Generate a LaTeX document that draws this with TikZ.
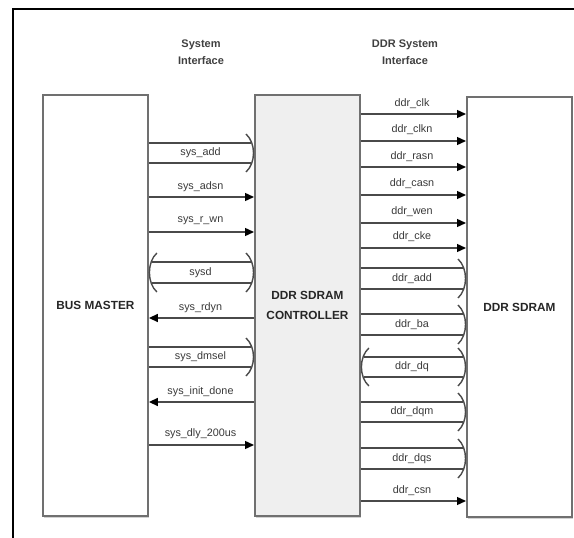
\documentclass[tikz,border=0pt]{standalone}
\usepackage{fontspec}
\setmainfont{Liberation Sans}
\usetikzlibrary{arrows.meta,calc,shadows}
\definecolor{boxline}{HTML}{707070}
\definecolor{sigline}{HTML}{4A4A4A}
\definecolor{lbl}{HTML}{3A3A3A}
\definecolor{ctlfill}{HTML}{EFEFEF}
\definecolor{shadowc}{HTML}{D2D2D2}
% ")" bracket ending a bus at the left side of a box: #1 anchor, #2 top y, #3 bottom y
\newcommand\rbrk[3]{\draw[sig] ($(#1 |- 0,#2)+(-8,-9)$) .. controls ($(#1 |- 0,#2)+(2,0)$) and ($(#1 |- 0,#3)+(2,0)$) .. ($(#1 |- 0,#3)+(-8,9)$);}
% "(" bracket ending a bus at the right side of a box
\newcommand\lbrk[3]{\draw[sig] ($(#1 |- 0,#2)+(8,-9)$) .. controls ($(#1 |- 0,#2)+(-2,0)$) and ($(#1 |- 0,#3)+(-2,0)$) .. ($(#1 |- 0,#3)+(8,9)$);}
\begin{document}
\begin{tikzpicture}[x=1pt,y=-1pt,
  blk/.style={draw=boxline, line width=1.9pt, inner sep=0pt, anchor=north west,
    align=center, font=\fontsize{11.8}{20}\selectfont\bfseries, text=black!85,
    drop shadow={shadow xshift=1.5pt, shadow yshift=-2.5pt, fill=shadowc, opacity=1}},
  sig/.style={draw=sigline, line width=1.4pt},
  arr/.style={sig, -{Triangle[length=9pt,width=8pt,color=black,fill=black]}},
  lab/.style={font=\fontsize{10.8}{12}\selectfont, text=lbl, inner sep=0pt},
  hdr/.style={font=\fontsize{11}{17}\selectfont\bfseries, text=black!75, align=center, inner sep=0pt}]
\useasboundingbox (0,0) rectangle (574,538);
\fill[white] (0,0) rectangle (574,538);
% outer frame
\draw[black, line width=1.5pt] (13,538) -- (13,9) -- (574,9);

% headers
\node[hdr] (h1) at (201,52) {System\\Interface};
\node[hdr] (h2) at (405,52) {DDR System\\Interface};

% blocks
\node[blk, fill=white, minimum width=105pt, minimum height=421pt] (bm) at (42,94) {BUS MASTER};
\node[blk, fill=ctlfill, minimum width=105pt, minimum height=421pt] (ctl) at (254,94) {DDR SDRAM\\CONTROLLER};
\node[blk, fill=white, minimum width=105pt, minimum height=420pt] (ddr) at (466,96) {DDR SDRAM};

% ---------- system interface ----------
% sys_add (bus)
\draw[sig] (bm.east |- 0,143) -- ($(ctl.west |- 0,143)+(-3,0)$);
\draw[sig] (bm.east |- 0,163) -- ($(ctl.west |- 0,163)+(-3,0)$);
\rbrk{ctl.west}{143}{163}
\node[lab] (l1) at (200.5,153) {sys\_add};
% sys_adsn
\draw[arr] (bm.east |- 0,197) -- (ctl.west |- 0,197);
\node[lab] (l2) at (200.5,187) {sys\_adsn};
% sys_r_wn
\draw[arr] (bm.east |- 0,232) -- (ctl.west |- 0,232);
\node[lab] (l3) at (200.5,221) {sys\_r\_wn};
% sysd (bidirectional bus)
\draw[sig] ($(bm.east |- 0,262)+(3,0)$) -- ($(ctl.west |- 0,262)+(-3,0)$);
\draw[sig] ($(bm.east |- 0,283)+(3,0)$) -- ($(ctl.west |- 0,283)+(-3,0)$);
\lbrk{bm.east}{262}{283}
\rbrk{ctl.west}{262}{283}
\node[lab] (l4) at (200.5,272.5) {sysd};
% sys_rdyn
\draw[arr] (ctl.west |- 0,318) -- (bm.east |- 0,318);
\node[lab] (l5) at (200.5,308) {sys\_rdyn};
% sys_dmsel (bus)
\draw[sig] (bm.east |- 0,347) -- ($(ctl.west |- 0,347)+(-3,0)$);
\draw[sig] (bm.east |- 0,367) -- ($(ctl.west |- 0,367)+(-3,0)$);
\rbrk{ctl.west}{347}{367}
\node[lab] (l6) at (200.5,357) {sys\_dmsel};
% sys_init_done
\draw[arr] (ctl.west |- 0,402) -- (bm.east |- 0,402);
\node[lab] (l7) at (200.5,392) {sys\_init\_done};
% sys_dly_200us
\draw[arr] (bm.east |- 0,445) -- (ctl.west |- 0,445);
\node[lab] (l8) at (200.5,434) {sys\_dly\_200us};

% ---------- DDR interface ----------
\draw[arr] (ctl.east |- 0,114) -- (ddr.west |- 0,114);
\node[lab] (r1) at (412,104) {ddr\_clk};
\draw[arr] (ctl.east |- 0,141) -- (ddr.west |- 0,141);
\node[lab] (r2) at (412,130) {ddr\_clkn};
\draw[arr] (ctl.east |- 0,167) -- (ddr.west |- 0,167);
\node[lab] (r3) at (412,157) {ddr\_rasn};
\draw[arr] (ctl.east |- 0,195) -- (ddr.west |- 0,195);
\node[lab] (r4) at (412,184) {ddr\_casn};
\draw[arr] (ctl.east |- 0,223) -- (ddr.west |- 0,223);
\node[lab] (r5) at (412,212) {ddr\_wen};
\draw[arr] (ctl.east |- 0,248) -- (ddr.west |- 0,248);
\node[lab] (r6) at (412,237) {ddr\_cke};
% ddr_add
\draw[sig] (ctl.east |- 0,268) -- ($(ddr.west |- 0,268)+(-3,0)$);
\draw[sig] (ctl.east |- 0,289) -- ($(ddr.west |- 0,289)+(-3,0)$);
\rbrk{ddr.west}{268}{289}
\node[lab] (r7) at (412,279) {ddr\_add};
% ddr_ba
\draw[sig] (ctl.east |- 0,314) -- ($(ddr.west |- 0,314)+(-3,0)$);
\draw[sig] (ctl.east |- 0,335) -- ($(ddr.west |- 0,335)+(-3,0)$);
\rbrk{ddr.west}{314}{335}
\node[lab] (r8) at (412,325) {ddr\_ba};
% ddr_dq (bidirectional)
\draw[sig] ($(ctl.east |- 0,357)+(3,0)$) -- ($(ddr.west |- 0,357)+(-3,0)$);
\draw[sig] ($(ctl.east |- 0,377)+(3,0)$) -- ($(ddr.west |- 0,377)+(-3,0)$);
\lbrk{ctl.east}{357}{377}
\rbrk{ddr.west}{357}{377}
\node[lab] (r9) at (412,367) {ddr\_dq};
% ddr_dqm
\draw[sig] (ctl.east |- 0,402) -- ($(ddr.west |- 0,402)+(-3,0)$);
\draw[sig] (ctl.east |- 0,422) -- ($(ddr.west |- 0,422)+(-3,0)$);
\rbrk{ddr.west}{402}{422}
\node[lab] (r10) at (412,412) {ddr\_dqm};
% ddr_dqs
\draw[sig] (ctl.east |- 0,448) -- ($(ddr.west |- 0,448)+(-3,0)$);
\draw[sig] (ctl.east |- 0,469) -- ($(ddr.west |- 0,469)+(-3,0)$);
\rbrk{ddr.west}{448}{469}
\node[lab] (r11) at (412,458.5) {ddr\_dqs};
% ddr_csn
\draw[arr] (ctl.east |- 0,501) -- (ddr.west |- 0,501);
\node[lab] (r12) at (412,491) {ddr\_csn};
\end{tikzpicture}
\end{document}
